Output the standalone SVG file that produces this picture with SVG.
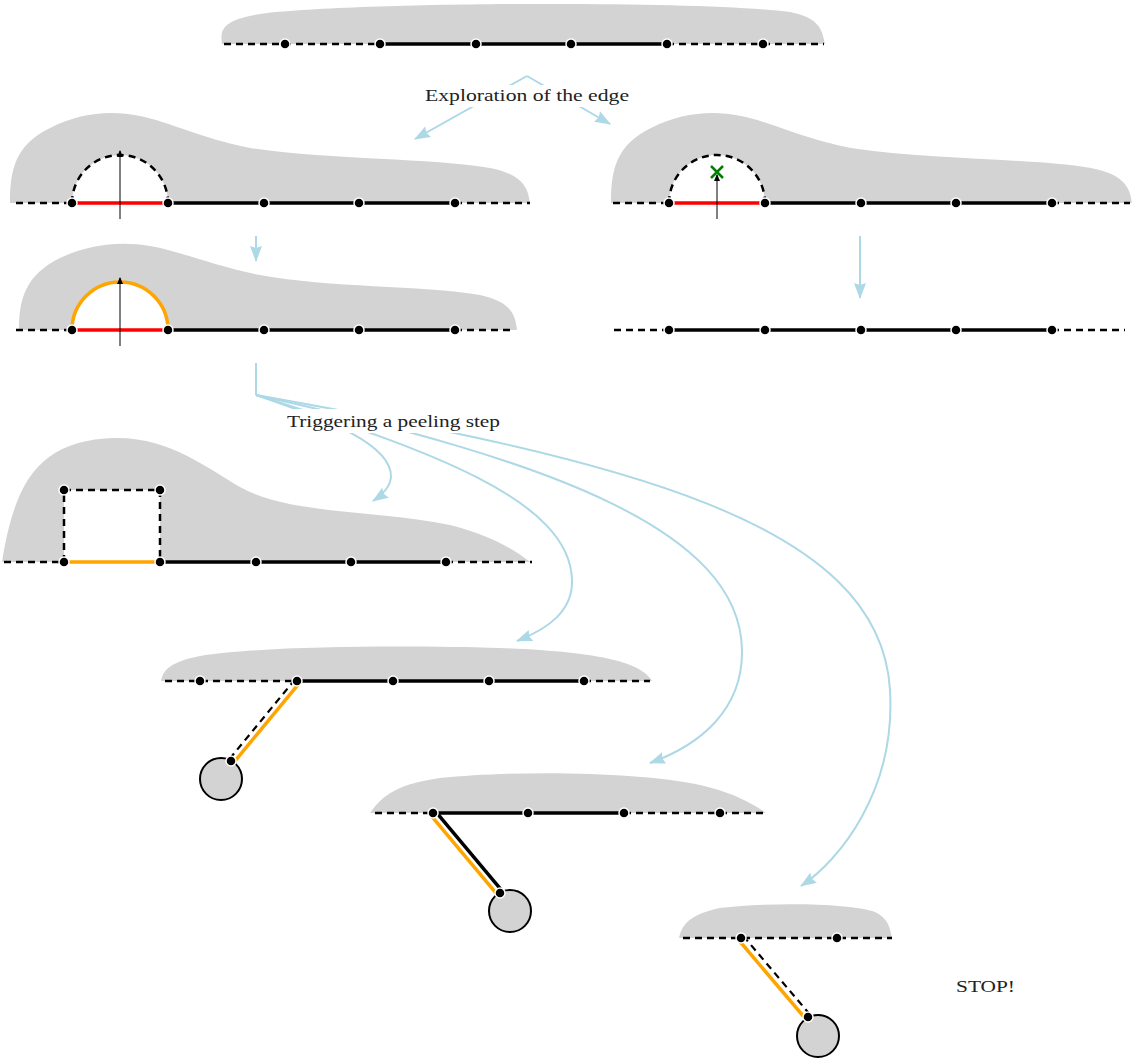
<svg xmlns="http://www.w3.org/2000/svg" width="1136" height="1061" viewBox="0 0 1136 1061">
<style>
.blob{fill:#d3d3d3;stroke:none}
.dash{fill:none;stroke:#000;stroke-width:2.5;stroke-dasharray:7 5}
.solid{fill:none;stroke:#000;stroke-width:3.5}
.red{fill:none;stroke:#ff0000;stroke-width:3.5}
.orange{fill:none;stroke:#ffa500;stroke-width:3.5}
.dot{fill:#000;stroke:#fff;stroke-width:1.5}
.thin{fill:none;stroke:#000;stroke-width:1;marker-end:url(#blk)}
.conn{fill:none;stroke:#add8e6;stroke-width:2;marker-end:url(#lb)}
.conn0{fill:none;stroke:#add8e6;stroke-width:2}
.ball{fill:#d3d3d3;stroke:#000;stroke-width:2}
.lbl{font-family:"Liberation Serif","DejaVu Serif",serif;font-size:17px;fill:#222}
</style>
<defs>
<marker id="lb" markerUnits="userSpaceOnUse" markerWidth="18" markerHeight="14" refX="15" refY="6" orient="auto" overflow="visible">
<path d="M0,0 L16,6 L0,12 L2,6 z" fill="#add8e6"/>
</marker>
<marker id="blk" markerUnits="userSpaceOnUse" markerWidth="8" markerHeight="8" refX="6" refY="3" orient="auto">
<path d="M0,0 L7,3 L0,6 z" fill="#000"/>
</marker>
</defs>

<g id="connectors">
<path class="conn" d="M527,76 L415,139"/>
<path class="conn" d="M527,76 L610,124"/>
<path class="conn" d="M256,236 L256,261"/>
<path class="conn" d="M860,236 L860,298"/>
<path class="conn0" d="M256,363 L256,395"/>
<path class="conn" d="M256,395 C330,420 392,445 391,477 C390,488 382,495 373,501"/>
<path class="conn" d="M256,395 C430,450 570,500 572,580 C573,610 550,628 517,641"/>
<path class="conn" d="M256,395 C550,460 740,530 742,650 C743,710 700,745 650,763"/>
<path class="conn" d="M256,395 C620,460 880,520 890,690 C896,790 840,860 801,886"/>
</g>

<g id="label-exploration">
<rect x="423" y="85" width="208" height="22" fill="#fff"/>
<text class="lbl" x="425" y="101" textLength="204" lengthAdjust="spacingAndGlyphs">Exploration of the edge</text>
</g>
<g id="label-trigger">
<rect x="284" y="409" width="219" height="24" fill="#fff"/>
<text class="lbl" x="287" y="427" textLength="213" lengthAdjust="spacingAndGlyphs">Triggering a peeling step</text>
</g>
<g id="label-stop">
<text class="lbl" x="956" y="992" textLength="59" lengthAdjust="spacingAndGlyphs">STOP!</text>
</g>

<g id="panel1">
<path class="blob" d="M222,44 C220,30 222,20 260,14 C350,2 700,0 790,12 C820,18 822,30 825,44 Z"/>
<path class="dash" d="M224,44 L380,44"/>
<path class="solid" d="M380,44 L667,44"/>
<path class="dash" d="M667,44 L824,44"/>
<circle class="dot" cx="285" cy="44" r="5"/>
<circle class="dot" cx="380" cy="44" r="5"/>
<circle class="dot" cx="476" cy="44" r="5"/>
<circle class="dot" cx="571" cy="44" r="5"/>
<circle class="dot" cx="667" cy="44" r="5"/>
<circle class="dot" cx="763" cy="44" r="5"/>
</g>

<g id="panel2a">
<path class="blob" d="M10,203 C10,170 15,145 50,128 C80,113 110,110 140,116 C170,122 200,138 250,148 C330,160 430,158 490,168 C525,175 528,190 530,203 Z"/>
<path d="M72,203 A48,48 0 0 1 168,203 Z" fill="#fff"/>
<path class="dash" d="M72,203 A48,48 0 0 1 168,203"/>
<path class="dash" d="M16,203 L72,203"/>
<path class="red" d="M72,203 L168,203"/>
<path class="solid" d="M168,203 L455,203"/>
<path class="dash" d="M455,203 L530,203"/>
<path class="thin" d="M120,219 L120,151"/>
<circle class="dot" cx="72" cy="203" r="5"/>
<circle class="dot" cx="168" cy="203" r="5"/>
<circle class="dot" cx="264" cy="203" r="5"/>
<circle class="dot" cx="359" cy="203" r="5"/>
<circle class="dot" cx="455" cy="203" r="5"/>
</g>

<g id="panel2b">
<path class="blob" d="M611,203 C611,170 616,145 651,128 C681,113 711,110 741,116 C771,122 801,138 851,148 C931,160 1031,158 1091,168 C1127,175 1130,190 1132,203 Z"/>
<path d="M669,203 A48,48 0 0 1 765,203 Z" fill="#fff"/>
<path class="dash" d="M669,203 A48,48 0 0 1 765,203"/>
<path class="dash" d="M613,203 L669,203"/>
<path class="red" d="M669,203 L765,203"/>
<path class="solid" d="M765,203 L1052,203"/>
<path class="dash" d="M1052,203 L1130,203"/>
<path class="thin" d="M717,219 L717,175"/>
<path d="M711,166 L723,178 M711,178 L723,166" stroke="#008000" stroke-width="2.5" fill="none"/>
<circle class="dot" cx="669" cy="203" r="5"/>
<circle class="dot" cx="765" cy="203" r="5"/>
<circle class="dot" cx="861" cy="203" r="5"/>
<circle class="dot" cx="956" cy="203" r="5"/>
<circle class="dot" cx="1052" cy="203" r="5"/>
</g>

<g id="panel3a">
<path class="blob" d="M19,330 C19,300 25,275 60,258 C90,244 120,241 150,246 C180,251 210,265 260,275 C330,288 420,285 480,295 C512,302 515,315 517,330 Z"/>
<path d="M72,330 A48,48 0 0 1 168,330 Z" fill="#fff"/>
<path class="orange" d="M72,330 A48,48 0 0 1 168,330"/>
<path class="dash" d="M16,330 L72,330"/>
<path class="red" d="M72,330 L168,330"/>
<path class="solid" d="M168,330 L455,330"/>
<path class="dash" d="M455,330 L515,330"/>
<path class="thin" d="M120,346 L120,278"/>
<circle class="dot" cx="72" cy="330" r="5"/>
<circle class="dot" cx="168" cy="330" r="5"/>
<circle class="dot" cx="264" cy="330" r="5"/>
<circle class="dot" cx="359" cy="330" r="5"/>
<circle class="dot" cx="455" cy="330" r="5"/>
</g>

<g id="panel3b">
<path class="dash" d="M614,330 L669,330"/>
<path class="solid" d="M669,330 L1052,330"/>
<path class="dash" d="M1052,330 L1125,330"/>
<circle class="dot" cx="669" cy="330" r="5"/>
<circle class="dot" cx="765" cy="330" r="5"/>
<circle class="dot" cx="861" cy="330" r="5"/>
<circle class="dot" cx="956" cy="330" r="5"/>
<circle class="dot" cx="1052" cy="330" r="5"/>
</g>

<g id="panel4">
<path class="blob" d="M2,562 C15,480 40,440 115,438 C170,437 210,470 240,487 C290,515 380,510 450,525 C490,535 515,550 530,562 Z"/>
<rect x="64" y="490" width="96" height="72" fill="#fff"/>
<path class="dash" d="M64,562 L64,490 L160,490 L160,562"/>
<path class="dash" d="M4,562 L64,562"/>
<path class="orange" d="M64,562 L160,562"/>
<path class="solid" d="M160,562 L446,562"/>
<path class="dash" d="M446,562 L532,562"/>
<circle class="dot" cx="64" cy="490" r="5"/>
<circle class="dot" cx="160" cy="490" r="5"/>
<circle class="dot" cx="64" cy="562" r="5"/>
<circle class="dot" cx="160" cy="562" r="5"/>
<circle class="dot" cx="256" cy="562" r="5"/>
<circle class="dot" cx="351" cy="562" r="5"/>
<circle class="dot" cx="446" cy="562" r="5"/>
</g>

<g id="panel5">
<path class="blob" d="M161,681 C163,670 170,662 200,656 C260,646 400,645 500,648 C600,652 640,662 652,681 Z"/>
<path class="dash" d="M165,681 L297,681"/>
<path class="solid" d="M297,681 L584,681"/>
<path class="dash" d="M584,681 L650,681"/>
<circle class="ball" cx="221" cy="779" r="21"/>
<path class="orange" d="M298.9,683.6 L232.9,763.6"/>
<path class="dash" d="M295.1,679.4 L229.1,759.4" style="stroke-width:2.2"/>
<circle class="dot" cx="200" cy="681" r="5"/>
<circle class="dot" cx="297" cy="681" r="5"/>
<circle class="dot" cx="393" cy="681" r="5"/>
<circle class="dot" cx="489" cy="681" r="5"/>
<circle class="dot" cx="584" cy="681" r="5"/>
<circle class="dot" cx="231" cy="761" r="5"/>
</g>

<g id="panel6">
<path class="blob" d="M370,813 C380,800 390,785 440,778 C520,770 640,772 700,785 C735,793 755,805 766,813 Z"/>
<path class="dash" d="M375,813 L433,813"/>
<path class="solid" d="M433,813 L624,813"/>
<path class="dash" d="M624,813 L764,813"/>
<circle class="ball" cx="510" cy="911" r="21"/>
<path class="solid" d="M435.3,811.2 L502.3,891.2"/>
<path class="orange" d="M430.7,815.2 L497.7,895.2"/>
<circle class="dot" cx="433" cy="813" r="5"/>
<circle class="dot" cx="528" cy="813" r="5"/>
<circle class="dot" cx="624" cy="813" r="5"/>
<circle class="dot" cx="720" cy="813" r="5"/>
<circle class="dot" cx="500" cy="893" r="5"/>
</g>

<g id="panel7">
<path class="blob" d="M679,938 C682,925 688,915 720,908 C770,902 850,903 875,912 C888,918 890,928 892,938 Z"/>
<path class="dash" d="M683,938 L892,938"/>
<circle class="ball" cx="818" cy="1036" r="21"/>
<path class="orange" d="M738.7,940 L805.7,1019"/>
<path class="dash" d="M743.3,936 L810.3,1015" style="stroke-width:2.2"/>
<circle class="dot" cx="741" cy="938" r="5"/>
<circle class="dot" cx="837" cy="938" r="5"/>
<circle class="dot" cx="808" cy="1017" r="5"/>
</g>
</svg>
